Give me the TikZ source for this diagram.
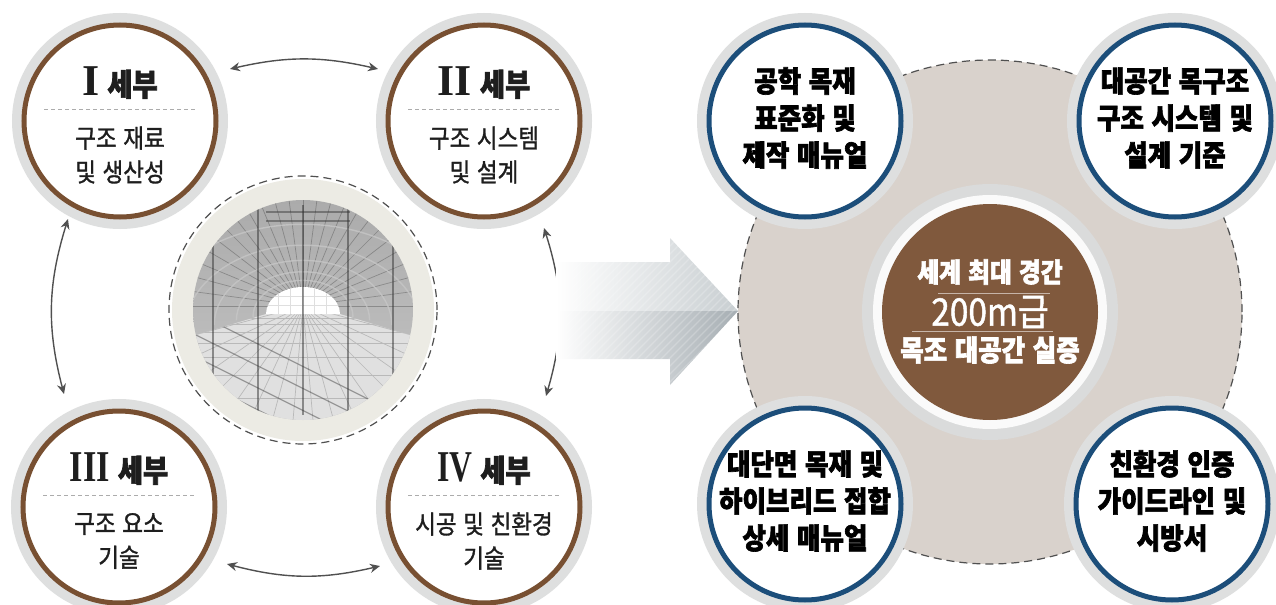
\documentclass[tikz,border=0pt]{standalone}
\usepackage{fontspec}
\usepackage{graphicx}
\newfontfamily\kr[FakeStretch=0.88,WordSpace=1.3,BoldFeatures={FakeBold=2.2}]{Noto Sans CJK KR}
\newfontfamily\krmed[FakeStretch=0.88,WordSpace=1.3,UprightFeatures={FakeBold=1.2}]{Noto Sans CJK KR}
\newfontfamily\numfont{Liberation Serif}
\usetikzlibrary{calc,arrows.meta}

\definecolor{ringbrown}{RGB}{120,80,50}
\definecolor{corebrown}{RGB}{128,89,61}
\definecolor{ringblue}{RGB}{28,78,122}
\definecolor{halo}{RGB}{222,223,223}
\definecolor{coregrey}{RGB}{218,219,219}
\definecolor{sand}{RGB}{217,210,204}
\definecolor{paper}{RGB}{236,235,228}
\definecolor{ink}{RGB}{30,30,30}
\definecolor{wire}{RGB}{80,80,80}
\definecolor{arrowtop}{RGB}{200,206,209}
\definecolor{arrowbot}{RGB}{166,174,179}

% bold serif numeral, optionally squeezed horizontally
\newcommand\romnum[2][1]{{\numfont\bfseries\fontsize{22}{22}\selectfont\scalebox{#1}[1]{#2}}}

\tikzset{
  taskdisc/.style={circle, inner sep=0pt, outer sep=0pt, minimum size=96pt,
    fill=white, draw=ringbrown, line width=2.5pt,
    preaction={draw=halo, line width=12pt}},
  resultdisc/.style={taskdisc, draw=ringblue},
  coredisc/.style={circle, inner sep=0pt, outer sep=0pt, minimum size=108pt,
    fill=corebrown,
    preaction={draw=coregrey, line width=20pt},
    preaction={draw=white!96!gray, line width=9pt}},
  ttl/.style={inner sep=0pt, text=ink, font=\kr\bfseries\fontsize{15.5}{18}\selectfont},
  bodytxt/.style={inner sep=0pt, align=center, text=ink, font=\krmed\fontsize{12.8}{17}\selectfont},
  resulttxt/.style={inner sep=0pt, align=center, text=black, font=\kr\bfseries\fontsize{14.5}{18.5}\selectfont},
  coretxt/.style={inner sep=0pt, text=white},
  sepline/.style={draw=gray!65, line width=0.5pt, dash pattern=on 2pt off 1.5pt},
  corerule/.style={draw=corebrown!45!white, line width=0.5pt},
  rim/.style={draw=wire, line width=0.6pt, dash pattern=on 4pt off 2.5pt},
  dbl/.style={draw=wire, line width=0.7pt,
    {Stealth[length=5pt,width=4.5pt]}-{Stealth[length=5pt,width=4.5pt]}},
}

\begin{document}
\begin{tikzpicture}[x=0.5pt,y=-0.5pt]
\useasboundingbox (0,0) rectangle (1276,605);
\fill[white] (0,0) rectangle (1276,605);

% ---------- four sub-project discs ----------
\node[taskdisc] (s1) at (120,121) {};
\node[taskdisc] (s2) at (484,121) {};
\node[taskdisc] (s3) at (119,507) {};
\node[taskdisc] (s4) at (484,507) {};

\node[ttl] (h1) at ($(s1)+(0,-38)$) {\romnum{I}\hspace{4pt}세부};
\node[ttl] (h2) at ($(s2)+(0,-38)$) {\romnum{II}\hspace{4pt}세부};
\node[ttl] (h3) at ($(s3)+(0,-38)$) {\romnum[0.78]{III}\hspace{4pt}세부};
\node[ttl] (h4) at ($(s4)+(0,-38)$) {\romnum[0.72]{IV}\hspace{4pt}세부};

\foreach \d in {s1,s2,s3,s4}
  \draw[sepline] ($(\d)+(-76,-12)$) -- ($(\d)+(76,-12)$);

\node[bodytxt] (d1) at ($(s1)+(0,34)$) {구조 재료\\및 생산성};
\node[bodytxt] (d2) at ($(s2)+(0,34)$) {구조 시스템\\및 설계};
\node[bodytxt] (d3) at ($(s3)+(0,34)$) {구조 요소\\기술};
\node[bodytxt] (d4) at ($(s4)+(0,34)$) {시공 및 친환경\\기술};

% links between the discs
\draw[dbl] ($(s1)+(110,-52)$) to[bend left=13]  ($(s2)+(-106,-52)$);
\draw[dbl] ($(s3)+(108,57)$)  to[bend right=14] ($(s4)+(-104,59)$);
\draw[dbl] ($(s1)+(-52,98)$)  to[bend right=16] ($(s3)+(-55,-113)$);
\draw[dbl] ($(s2)+(60,107)$)  to[bend left=17]  ($(s4)+(62,-111)$);

% ---------- timber vault rendering in the middle ----------
\coordinate (g) at (303,310);
\coordinate (vp) at (303,306);
\fill[paper] (g) circle[radius=65.5pt];
\draw[rim] (g) circle[radius=67pt];
\begin{scope}
  \clip (g) circle[radius=55pt];
  \shade[top color=gray!66, bottom color=gray!45] (190,198) rectangle (416,422);
  % longitudinal members over the vault
  \foreach \a in {0,7.5,...,180}
    \draw[gray!45!black, line width=0.35pt, opacity=0.35] (vp) -- ++(\a:90pt);
  % arch ribs
  \foreach \s in {1.35,1.8,2.4,3.2,4.3}
    \draw[gray!45, line width=0.7pt, opacity=0.8] ({303-37*\s},{314+8*(\s-1)})
      arc[start angle=180, end angle=360, x radius={37*\s}, y radius={27*\s}];
  % floor deck
  \fill[gray!24] (266,314) -- (340,314) -- (420,338) -- (420,425) -- (186,425) -- (186,338) -- cycle;
  \begin{scope}
    \clip (266,314) -- (340,314) -- (420,338) -- (420,425) -- (186,425) -- (186,338) -- cycle;
    \foreach \a in {185,195,...,355}
      \draw[gray!55, line width=0.35pt] (vp) -- ++(\a:100pt);
    \foreach \y in {318,324,332,343,357,375,398}
      \draw[gray!55, line width=0.4pt] (186,\y) -- (420,\y);
    \foreach \k in {0,...,6}
      \draw[gray!50!black, line width=0.6pt, opacity=0.45] (170,{300+22*\k}) -- ++(260,130);
  \end{scope}
  % far opening of the vault
  \fill[white] (266,314) arc[start angle=180, end angle=360, x radius=37, y radius=27] -- cycle;
  \begin{scope}
    \clip (266,314) arc[start angle=180, end angle=360, x radius=37, y radius=27] -- cycle;
    \foreach \x in {278,290,...,330} \draw[gray!25, line width=0.3pt] (\x,285) -- (\x,314);
    \foreach \y in {296,305} \draw[gray!25, line width=0.3pt] (266,\y) -- (340,\y);
  \end{scope}
  % columns and top beams
  \foreach \x in {213,258,303,348,393}
    \draw[gray!40!black, line width=0.7pt, opacity=0.5] (\x,205) -- (\x,415);
  \draw[gray!40!black, line width=0.7pt, opacity=0.45] (266,212) -- (350,212) (266,221) -- (350,221);
\end{scope}

% ---------- outcome cluster ----------
\coordinate (hub) at (990,312);
\fill[sand] (hub) circle[radius=126pt];
\draw[rim] (hub) circle[radius=126pt];
\node[coredisc] (core) at (hub) {};

\node[coretxt, font=\kr\bfseries\fontsize{13.5}{16}\selectfont] (c1) at ($(core)+(0,-40)$) {세계 최대 경간};
\node[coretxt, font=\krmed\fontsize{19}{21}\selectfont] (c2) at ($(core)+(0,0)$) {200m급};
\node[coretxt, font=\kr\bfseries\fontsize{14.5}{17}\selectfont] (c3) at ($(core)+(0,38)$) {목조 대공간 실증};
\draw[corerule] ($(core)+(-52,-19)$) -- ($(core)+(60,-19)$);
\draw[corerule] ($(core)+(-78,19)$) -- ($(core)+(63,19)$);

\node[resultdisc] (r1) at (805,121) {};
\node[resultdisc] (r2) at (1175,121) {};
\node[resultdisc] (r3) at (805,504) {};
\node[resultdisc] (r4) at (1172,504) {};

\node[resulttxt] (r1t) at ($(r1)+(0,-3)$) {공학 목재\\표준화 및\\제작 매뉴얼};
\node[resulttxt] (r2t) at ($(r2)+(0,-3)$) {대공간 목구조\\구조 시스템 및\\설계 기준};
\node[resulttxt] (r3t) at ($(r3)+(0,-3)$) {대단면 목재 및\\하이브리드 접합\\상세 매뉴얼};
\node[resulttxt] (r4t) at ($(r4)+(0,-3)$) {친환경 인증\\가이드라인 및\\시방서};

% ---------- big transition arrow ----------
\shade[left color=white, middle color=arrowtop!75!white, right color=arrowtop]
  (556,262) -- (670,262) -- (670,238) -- (738,311) -- (556,311) -- cycle;
\shade[left color=white, middle color=arrowbot!70!white, right color=arrowbot]
  (556,311) -- (738,311) -- (670,385) -- (670,359) -- (556,359) -- cycle;
\begin{scope}
  \clip (556,262) -- (670,262) -- (670,238) -- (738,311) -- (670,385) -- (670,359) -- (556,359) -- cycle;
  \foreach \i in {0,...,45}
    \draw[white, opacity=0.22, line width=0.6pt] ({420+8*\i},400) -- ++(170,-170);
\end{scope}
\end{tikzpicture}
\end{document}
